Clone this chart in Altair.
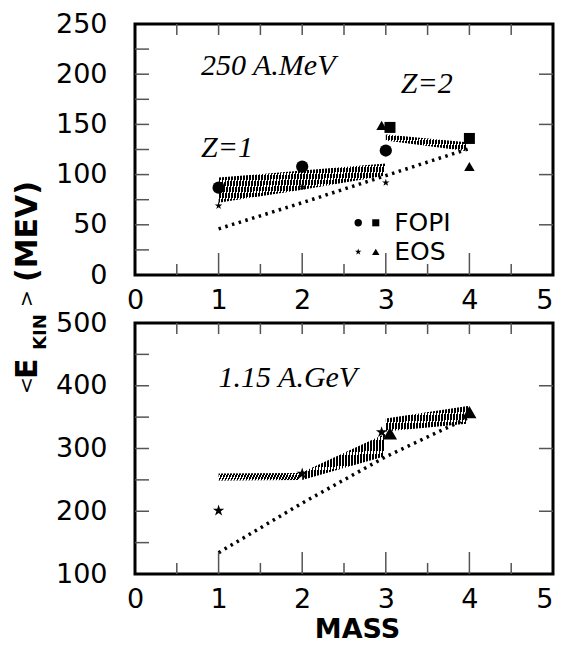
import altair as alt
import pandas as pd

# ---------------- data ----------------
# 250 A.MeV panel
mass_fopi_z1_250 = [1, 2, 3]
ekin_fopi_z1_250 = [87, 108, 124]
mass_fopi_z2_250 = [3.05, 4]
ekin_fopi_z2_250 = [147, 136]
mass_eos_z1_250 = [1, 2, 3]
ekin_eos_z1_250 = [69, 88, 92]
mass_eos_z2_250 = [2.95, 4]
ekin_eos_z2_250 = [149, 108]

band_z1_mass_250 = [1, 2, 3]
band_z1_lo_250 = [72, 85, 99]
band_z1_hi_250 = [97, 104, 111]
band_z2_mass_250 = [3, 4]
band_z2_lo_250 = [134, 123]
band_z2_hi_250 = [140, 132]

line_mass_250 = [1, 2, 3, 4]
line_ekin_250 = [46, 72, 99, 126]

# 1.15 A.GeV panel
mass_eos_z1_1150 = [1, 2, 2.95]
ekin_eos_z1_1150 = [201, 260, 326]
mass_eos_z2_1150 = [3.05, 4]
ekin_eos_z2_1150 = [324, 358]

band_seg_1150 = ["a", "a", "b", "b", "c", "c"]
band_mass_1150 = [1, 2, 2, 3, 3, 4]
band_lo_1150 = [249, 250, 250, 288, 327, 340]
band_hi_1150 = [260, 261, 262, 324, 348, 368]

line_mass_1150 = [1, 2, 3, 4]
line_ekin_1150 = [134, 213, 287, 350]

# legend entries
legend_groups = ["FOPI", "EOS"]

# tick values
mass_labels = [0, 1, 2, 3, 4, 5]
mass_major = [1, 2, 3, 4]
mass_minor = [0.5, 1.5, 2.5, 3.5, 4.5]
mass_top = [0.5, 1, 1.5, 2, 2.5, 3, 3.5, 4, 4.5]
e250_labels = [0, 50, 100, 150, 200, 250]
e250_left = [25, 50, 75, 100, 125, 150, 175, 200, 225]
e250_right = [50, 100, 150, 200]
e1150_labels = [100, 200, 300, 400, 500]
e1150_left = [150, 200, 250, 300, 350, 400, 450]
e1150_right = [200, 300, 400]

# ---------------- styles ----------------
W, H = 418, 251
TICK = "#555555"
STAR = ("M0,-1L0.2245,-0.309L0.951,-0.309L0.363,0.118L0.588,0.809L0,0.382"
        "L-0.588,0.809L-0.363,0.118L-0.951,-0.309L-0.2245,-0.309Z")

xs = alt.Scale(domain=[0, 5], nice=False, zero=False)


def hatch(n):
    stops = []
    for i in range(n):
        a, b, c = i / n, (i + 0.6) / n, (i + 1) / n
        stops += [alt.GradientStop(offset=a, color="black"),
                  alt.GradientStop(offset=b, color="black"),
                  alt.GradientStop(offset=b, color="rgba(0,0,0,0)"),
                  alt.GradientStop(offset=c, color="rgba(0,0,0,0)")]
    return alt.Gradient(gradient="linear", stops=stops, x1=0, x2=1, y1=0, y2=0.04)


def ax_x(title=None):
    kw = dict(values=mass_labels, ticks=False, domain=False, grid=False,
              labelPadding=12, labelFont="DejaVu Sans", labelFontSize=27,
              labelColor="black", labelFlush=False, orient="bottom", format="d",
              labelAlign={"condition": {"test": "datum.value == 5",
                                        "value": "right"},
                          "value": "center"})
    if title:
        kw.update(title=title, titleFont="DejaVu Sans", titleFontSize=27,
                  titleFontWeight="bold", titleColor="black", titlePadding=4,
                  titleX=222)
    else:
        kw.update(title=None)
    return alt.Axis(**kw)


def ax_y(values):
    return alt.Axis(values=values, ticks=False, domain=False, grid=False,
                    labelPadding=28, labelFont="DejaVu Sans", labelFontSize=27,
                    labelColor="black", labelFlush=False, title=None,
                    orient="left", format="d")


def xticks(values, y_from, y_to):
    df = pd.DataFrame({"v": values})
    return alt.Chart(df).mark_rule(color=TICK, strokeWidth=1.5).encode(
        x=alt.X("v:Q", scale=xs, axis=None),
        y=alt.value(y_from), y2=alt.value(y_to))


def yticks(values, ys, x_from, x_to):
    df = pd.DataFrame({"v": values})
    return alt.Chart(df).mark_rule(color=TICK, strokeWidth=1.5).encode(
        y=alt.Y("v:Q", scale=ys, axis=None),
        x=alt.value(x_from), x2=alt.value(x_to))


def frame_ticks(ys, left_vals, right_vals):
    return [
        xticks(mass_major, H, H - 22),
        xticks(mass_minor, H, H - 11),
        xticks(mass_top, 0, 11),
        yticks(left_vals, ys, 0, 14),
        yticks(right_vals, ys, W, W - 14),
    ]


def band(mass, lo, hi, seg, n, ys, xa=None, ya=None):
    df = pd.DataFrame({"mass": mass, "lo": lo, "hi": hi, "seg": seg})
    return alt.Chart(df).mark_area(fill=hatch(n)).encode(
        x=alt.X("mass:Q", scale=xs, axis=xa),
        y=alt.Y("hi:Q", scale=ys, axis=ya),
        y2="lo:Q",
        detail="seg:N",
    )


def dotted(mass, ekin, ys):
    df = pd.DataFrame({"mass": mass, "ekin": ekin})
    return alt.Chart(df).mark_line(color="black", strokeWidth=3.5,
                                   strokeDash=[2.5, 4.5]).encode(
        x=alt.X("mass:Q", scale=xs, axis=None),
        y=alt.Y("ekin:Q", scale=ys, axis=None),
    )


def pts(mass, ekin, shape, size, ys):
    df = pd.DataFrame({"mass": mass, "ekin": ekin})
    return alt.Chart(df).mark_point(filled=True, color="black", opacity=1,
                                    shape=shape, size=size).encode(
        x=alt.X("mass:Q", scale=xs, axis=None),
        y=alt.Y("ekin:Q", scale=ys, axis=None),
    )


def key_symbol(shape, size, x, y, ys):
    return alt.Chart(pd.DataFrame({"k": [0]})).mark_point(
        filled=True, color="black", opacity=1, shape=shape, size=size).encode(
        x=alt.XDatum(x, scale=xs, axis=None),
        y=alt.YDatum(y, scale=ys, axis=None))


def key_label(text, x, y, ys):
    return alt.Chart(pd.DataFrame({"t": [text]})).mark_text(
        text=text, font="DejaVu Sans", fontSize=25, align="left",
        baseline="middle", color="black").encode(
        x=alt.XDatum(x, scale=xs, axis=None),
        y=alt.YDatum(y, scale=ys, axis=None))


def note(text, x, y, ys, size=30):
    return alt.Chart(pd.DataFrame({"t": [text]})).mark_text(
        text=text, font="Liberation Serif", fontStyle="italic", fontSize=size,
        align="left", baseline="middle", color="black").encode(
        x=alt.XDatum(x, scale=xs, axis=None),
        y=alt.YDatum(y, scale=ys, axis=None),
    )


def ytitle(text, x, y, size, bold):
    return alt.Chart(pd.DataFrame({"t": [text]})).mark_text(
        text=text, angle=270, align="left", baseline="alphabetic",
        font="DejaVu Sans", fontSize=size,
        fontWeight="bold" if bold else "normal", color="black").encode(
        x=alt.value(x), y=alt.value(y))


# ---------------- top panel ----------------
ys1 = alt.Scale(domain=[0, 250], nice=False)
top = alt.layer(
    band(band_z1_mass_250, band_z1_lo_250, band_z1_hi_250, ["z1"] * 3, 56, ys1,
         ax_x(), ax_y(e250_labels)),
    band(band_z2_mass_250, band_z2_lo_250, band_z2_hi_250, ["z2"] * 2, 28, ys1),
    dotted(line_mass_250, line_ekin_250, ys1),
    *frame_ticks(ys1, e250_left, e250_right),
    pts(mass_fopi_z1_250, ekin_fopi_z1_250, "circle", 150, ys1),
    pts(mass_fopi_z2_250, ekin_fopi_z2_250, "square", 121, ys1),
    pts(mass_eos_z1_250, ekin_eos_z1_250, STAR, 64, ys1),
    pts(mass_eos_z2_250, ekin_eos_z2_250, "triangle-up", 110, ys1),
    # key
    key_symbol("circle", 55, 2.67, 52, ys1),
    key_symbol("square", 50, 2.88, 52, ys1),
    key_symbol(STAR, 45, 2.67, 23, ys1),
    key_symbol("triangle-up", 55, 2.88, 23, ys1),
    key_label(legend_groups[0], 3.1, 52, ys1),
    key_label(legend_groups[1], 3.1, 23, ys1),
    note("250 A.MeV", 0.79, 208, ys1),
    note("Z=2", 3.18, 190, ys1),
    note("Z=1", 0.79, 126, ys1),
    ytitle("<", -102, 370, 20, False),
    ytitle("E", -98, 355, 30, True),
    ytitle("KIN", -89, 326, 18, True),
    ytitle(">", -102, 283, 20, False),
    ytitle("(MEV)", -98, 258, 30, True),
).resolve_axis(x="independent", y="independent").properties(width=W, height=H)

# ---------------- bottom panel ----------------
ys2 = alt.Scale(domain=[100, 500], nice=False, zero=False)
bottom = alt.layer(
    band(band_mass_1150, band_lo_1150, band_hi_1150, band_seg_1150, 28, ys2,
         ax_x("MASS"), ax_y(e1150_labels)),
    dotted(line_mass_1150, line_ekin_1150, ys2),
    *frame_ticks(ys2, e1150_left, e1150_right),
    pts(mass_eos_z1_1150, ekin_eos_z1_1150, STAR, 144, ys2),
    pts(mass_eos_z2_1150, ekin_eos_z2_1150, "triangle-up", 200, ys2),
    note("1.15 A.GeV", 1.0, 412, ys2),
).resolve_axis(x="independent", y="independent").properties(width=W, height=H)

chart = alt.vconcat(top, bottom, spacing=48, bounds="flush").properties(
    padding={"left": 3, "top": 0, "right": 0, "bottom": 0}
).configure_view(stroke="black", strokeWidth=3)

chart.save("out.html", embed_options={"renderer": "svg", "actions": False})
